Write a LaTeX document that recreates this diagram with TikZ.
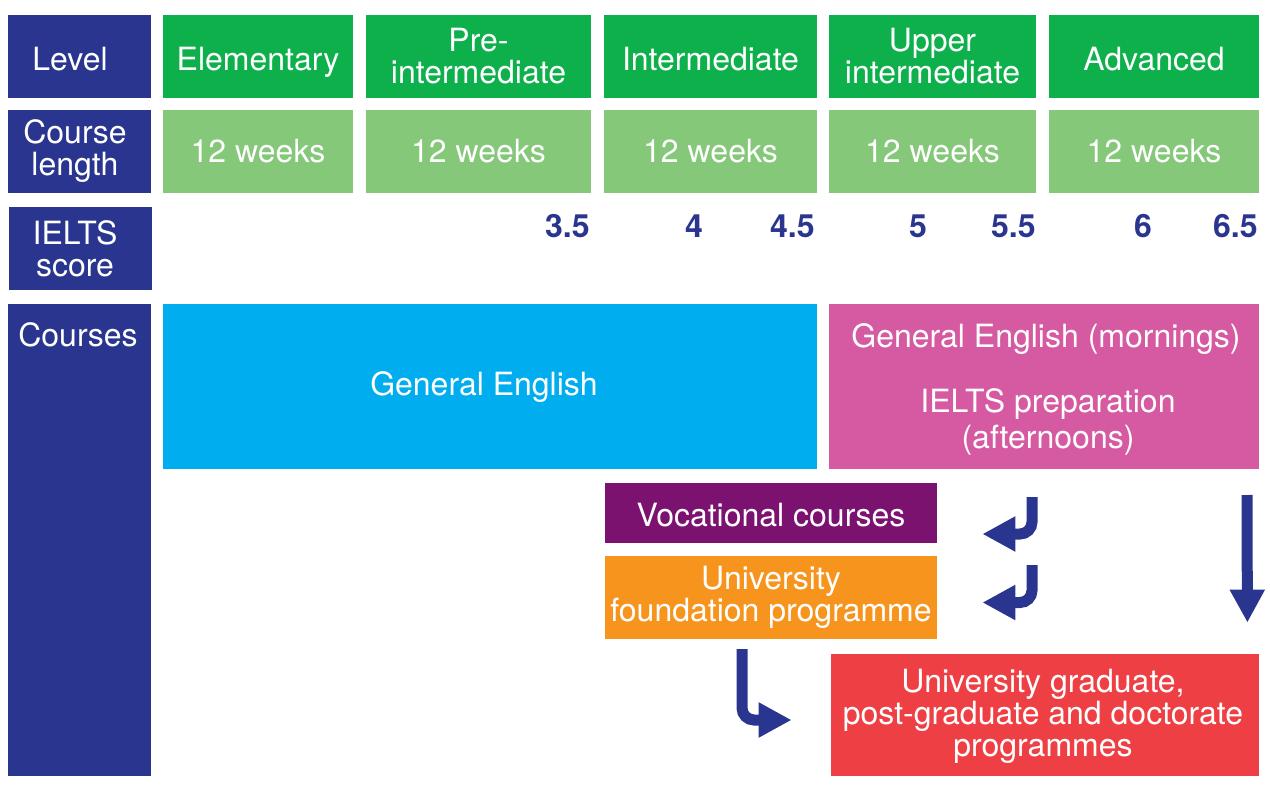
\documentclass[tikz,border=0pt]{standalone}
\usepackage{fontspec}
\setmainfont{TeX Gyre Heros}
\usepackage{tikz}
\usetikzlibrary{arrows.meta, positioning, calc}

\definecolor{navy}{HTML}{29358F}
\definecolor{lvgreen}{HTML}{0DB04B}
\definecolor{wkgreen}{HTML}{86C87A}
\definecolor{gecyan}{HTML}{00AEEF}
\definecolor{ieltspink}{HTML}{D65AA2}
\definecolor{vocpurple}{HTML}{7B1270}
\definecolor{fndorange}{HTML}{F7941D}
\definecolor{unired}{HTML}{EE4044}

\tikzset{
  box/.style={rectangle, inner sep=0pt, text=white, align=center,
    font=\fontsize{16}{16}\selectfont},
  oneline/.style={text height=13.5pt, text depth=0pt},
  hdr/.style={box, fill=navy, minimum width=71.5pt, minimum height=41.5pt},
  lvl/.style={box, fill=lvgreen, minimum height=41.5pt},
  wks/.style={box, fill=wkgreen, minimum height=41.5pt},
  score/.style={inner sep=0pt, text=navy, font=\fontsize{16}{16}\selectfont\bfseries},
  txt/.style={inner sep=0pt, text=white, align=center, font=\fontsize{16}{16}\selectfont},
  bentarrow/.style={navy, line width=5.5pt, rounded corners=6pt,
    -{Triangle[length=16.5pt, width=16.5pt]}}
}

\begin{document}
\begin{tikzpicture}[x=0.5pt, y=-0.5pt]

  % Rahmen
  \useasboundingbox (0,0) rectangle (1270,787);

  % Linke Spalte
  \node[hdr] (level) at (79.5,56.5) {};
  \node[txt, oneline] (levellbl) at (70,56.5) {Level};
  \node[hdr] (length) at (79.5,151.5) {};
  \node[txt] (lengthlbl) at (75,151.5) {Course\\length};
  \node[hdr] (ielts) at (80,248.5) {};
  \node[txt] (ieltslbl) at (75,248.5) {IELTS\\score};
  \node[hdr, minimum height=236pt] (courses) at (79.5,540) {};
  \node[txt] (courseslbl) at (78,335) {Courses};

  % Niveaus
  \node[lvl, oneline, minimum width=95pt] (elem) at (258,56.5) {Elementary};
  \node[lvl, minimum width=112.5pt] (preint) at (478.5,56.5) {Pre-\\intermediate};
  \node[lvl, oneline, minimum width=106.5pt] (inter) at (710.5,56.5) {Intermediate};
  \node[lvl, minimum width=103.5pt] (upper) at (932.5,56.5) {Upper\\intermediate};
  \node[lvl, oneline, minimum width=105pt] (adv) at (1154,56.5) {Advanced};

  % Kursdauer
  \node[wks, minimum width=95pt] (wk1) at (258,151.5) {12 weeks};
  \node[wks, minimum width=112.5pt] (wk2) at (478.5,151.5) {12 weeks};
  \node[wks, minimum width=106.5pt] (wk3) at (710.5,151.5) {12 weeks};
  \node[wks, minimum width=103.5pt] (wk4) at (932.5,151.5) {12 weeks};
  \node[wks, minimum width=105pt] (wk5) at (1154,151.5) {12 weeks};

  % IELTS-Werte
  \node[score, anchor=east] (s35) at (590,226) {3.5};
  \node[score] (s40) at (694,226) {4};
  \node[score, anchor=east] (s45) at (815,226) {4.5};
  \node[score] (s50) at (918,226) {5};
  \node[score, anchor=east] (s55) at (1036,226) {5.5};
  \node[score] (s60) at (1143,226) {6};
  \node[score, anchor=east] (s65) at (1258,226) {6.5};

  % Kurse
  \node[box, fill=gecyan, minimum width=327pt, minimum height=82.5pt] (general) at (490,386.5) {};
  \node[txt] (generallbl) at (484,387) {General English};
  \node[box, fill=ieltspink, minimum width=215pt, minimum height=82.5pt] (prep) at (1044,386.5) {};
  \node[txt] (preplbl1) at (1046,339) {General English (mornings)};
  \node[txt, font=\fontsize{16}{18}\selectfont] (preplbl2) at (1048,422) {IELTS preparation\\(afternoons)};
  \node[box, fill=vocpurple, minimum width=166pt, minimum height=30pt] (voc) at (771,513) {};
  \node[txt] (voclbl) at (771,515) {Vocational courses};
  \node[box, fill=fndorange, minimum width=166pt, minimum height=41.5pt] (found) at (771,597.5) {University\\foundation programme};
  \node[box, fill=unired, minimum width=214pt, minimum height=61pt] (uni) at (1045,715) {};
  \node[txt] (unilbl) at (1043,716.5) {University graduate,\\post-graduate and doctorate\\programmes};

  % Pfeile
  \coordinate (a1) at (1032,497);
  \coordinate (a2) at (1032,565);
  \coordinate (a3) at (1247,495);
  \coordinate (a4) at (742,649);
  \draw[bentarrow] (a1) |- ($(voc.east)+(45,21)$);
  \draw[bentarrow] (a2) |- ($(found.east)+(45,5)$);
  \draw[bentarrow] (a3) -- ($(uni.north east)+(-12,-31)$);
  \draw[bentarrow] (a4) |- ($(uni.west)+(-39,5)$);

\end{tikzpicture}
\end{document}
